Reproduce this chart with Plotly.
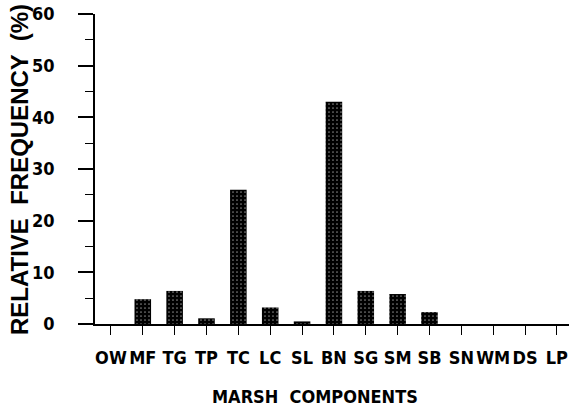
import plotly.graph_objects as go

categories = ["OW", "MF", "TG", "TP", "TC", "LC", "SL", "BN", "SG", "SM", "SB", "SN", "WM", "DS", "LP"]
frequency = [0.0, 4.8, 6.4, 1.1, 26.0, 3.2, 0.5, 43.0, 6.4, 5.8, 2.3, 0.0, 0.0, 0.0, 0.0]
y_ticks = [0, 10, 20, 30, 40, 50, 60]

NARROW = "DejaVu Sans Condensed, Liberation Sans Narrow, Arial Narrow, sans-serif"

fig = go.Figure(go.Bar(
    x=categories, y=frequency, width=0.52,
    marker=dict(color="black", line=dict(color="black", width=0),
                pattern=dict(shape=".", fgcolor="white", bgcolor="black", size=4, solidity=0.15)),
))

fig.update_layout(
    width=569, height=414,
    margin=dict(l=95, r=0, t=14, b=90),
    paper_bgcolor="white", plot_bgcolor="white",
    showlegend=False,
    bargap=0.48,
)
fig.update_xaxes(
    type="category", range=[-0.5, 14.38],
    showline=True, linecolor="black", linewidth=2,
    ticks="outside", ticklen=9, tickwidth=1, tickcolor="black",
    tickangle=0, ticklabelstandoff=7,
    tickfont=dict(family=NARROW, size=18, color="black", weight="bold"),
    showgrid=False, zeroline=False,
)
fig.update_yaxes(
    range=[0, 60], tickvals=y_ticks,
    showline=True, linecolor="black", linewidth=1.5,
    ticks="outside", ticklen=15, tickwidth=1.5, tickcolor="black",
    minor=dict(dtick=5, tick0=0, ticks="outside", ticklen=8, tickwidth=1, tickcolor="black", showgrid=False),
    ticklabelstandoff=20,
    tickfont=dict(family=NARROW, size=18, color="black", weight="bold"),
    showgrid=False, zeroline=False,
)
fig.add_annotation(text="RELATIVE  FREQUENCY  (%)", xref="paper", yref="paper",
                   x=-0.158, y=0.497, textangle=-90, showarrow=False,
                   xanchor="center", yanchor="middle",
                   font=dict(family="Liberation Sans", size=24, color="black", weight="bold"))
fig.add_annotation(text="MARSH  COMPONENTS", xref="paper", yref="paper",
                   x=0.464, y=-0.235, showarrow=False,
                   xanchor="center", yanchor="middle",
                   font=dict(family=NARROW, size=18, color="black", weight="bold"))

fig.write_html("out.html")
